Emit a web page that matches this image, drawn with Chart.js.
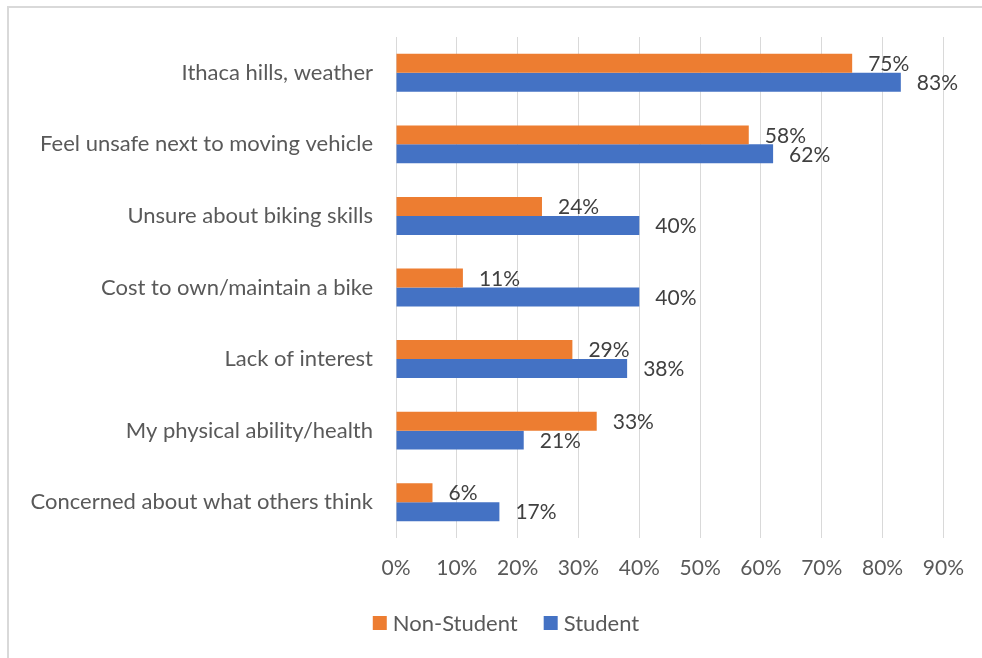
<!DOCTYPE html>
<html>
<head>
<meta charset="utf-8">
<script src="https://cdn.jsdelivr.net/npm/chart.js@4/dist/chart.umd.min.js"></script>
<style>
  html, body { margin: 0; padding: 0; background: #ffffff; }
  #wrap { width: 982px; height: 658px; position: relative; }
</style>
</head>
<body>
<div id="wrap"><canvas id="chart" width="982" height="658"></canvas></div>
<script>
// Barriers to biking, share of respondents (%)
const categories = [
  'Ithaca hills, weather',
  'Feel unsafe next to moving vehicle',
  'Unsure about biking skills',
  'Cost to own/maintain a bike',
  'Lack of interest',
  'My physical ability/health',
  'Concerned about what others think'
];
const nonStudent = [75, 58, 24, 11, 29, 33, 6];
const student = [83, 62, 40, 40, 38, 21, 17];
const tickValues = [0, 10, 20, 30, 40, 50, 60, 70, 80, 90];

const FONT = 'Lato, "Open Sans", sans-serif';
const TEXT_GRAY = '#595959';

// Light frame around the chart
const frame = {
  id: 'frame',
  beforeDraw(chart) {
    const ctx = chart.ctx;
    ctx.save();
    ctx.fillStyle = '#ffffff';
    ctx.fillRect(0, 0, chart.width, chart.height);
    ctx.strokeStyle = '#d9d9d9';
    ctx.lineWidth = 2;
    ctx.strokeRect(8, 7, chart.width + 20, chart.height + 20);
    ctx.restore();
  }
};

// Percent labels just past the end of each bar
const valueLabels = {
  id: 'valueLabels',
  afterDatasetsDraw(chart) {
    const ctx = chart.ctx;
    ctx.save();
    ctx.font = '21px ' + FONT;
    ctx.fillStyle = '#404040';
    ctx.textAlign = 'left';
    ctx.textBaseline = 'middle';
    chart.data.datasets.forEach((ds, di) => {
      chart.getDatasetMeta(di).data.forEach((bar, i) => {
        ctx.fillText(ds.data[i] + '%', bar.x + 16, bar.y + 1);
      });
    });
    ctx.restore();
  }
};

// Series key under the axis, built from the dataset labels and colours
const seriesKey = {
  id: 'seriesKey',
  afterDraw(chart) {
    const ctx = chart.ctx;
    const box = 14, gap = 6, itemGap = 26, centerX = 506, centerY = 623;
    ctx.save();
    ctx.font = '22px ' + FONT;
    ctx.textBaseline = 'middle';
    ctx.textAlign = 'left';
    const items = chart.data.datasets.map(ds => ({
      text: ds.label,
      color: ds.backgroundColor,
      w: box + gap + ctx.measureText(ds.label).width
    }));
    const total = items.reduce((s, it) => s + it.w, 0) + itemGap * (items.length - 1);
    let x = centerX - total / 2;
    items.forEach(it => {
      ctx.fillStyle = it.color;
      ctx.fillRect(x, centerY - box / 2, box, box);
      ctx.fillStyle = TEXT_GRAY;
      ctx.fillText(it.text, x + box + gap, centerY + 1);
      x += it.w + itemGap;
    });
    ctx.restore();
  }
};

new Chart(document.getElementById('chart'), {
  type: 'bar',
  data: {
    labels: categories,
    datasets: [
      { label: 'Non-Student', data: nonStudent, backgroundColor: '#ED7D31', borderWidth: 0 },
      { label: 'Student', data: student, backgroundColor: '#4472C4', borderWidth: 0 }
    ]
  },
  options: {
    indexAxis: 'y',
    responsive: false,
    animation: false,
    devicePixelRatio: 1,
    layout: { padding: { top: 37, right: 37, left: 10, bottom: 70 } },
    datasets: { bar: { categoryPercentage: 0.53, barPercentage: 1.0 } },
    scales: {
      x: {
        min: 0,
        max: 90,
        afterBuildTicks(scale) { scale.ticks = tickValues.map(v => ({ value: v })); },
        afterFit(scale) { scale.height = 50; },
        grid: { color: '#d9d9d9', lineWidth: 1, drawTicks: false },
        border: { display: false },
        ticks: {
          padding: 18,
          color: TEXT_GRAY,
          font: { family: FONT, size: 21 },
          callback: v => v + '%'
        }
      },
      y: {
        afterFit(scale) { scale.width = 396 - 10; },
        grid: { display: false, drawTicks: false },
        border: { display: false },
        ticks: {
          padding: 23,
          color: TEXT_GRAY,
          font: { family: FONT, size: 22 }
        }
      }
    },
    plugins: {
      legend: { display: false },
      tooltip: { enabled: false }
    }
  },
  plugins: [frame, valueLabels, seriesKey]
});
</script>
</body>
</html>
